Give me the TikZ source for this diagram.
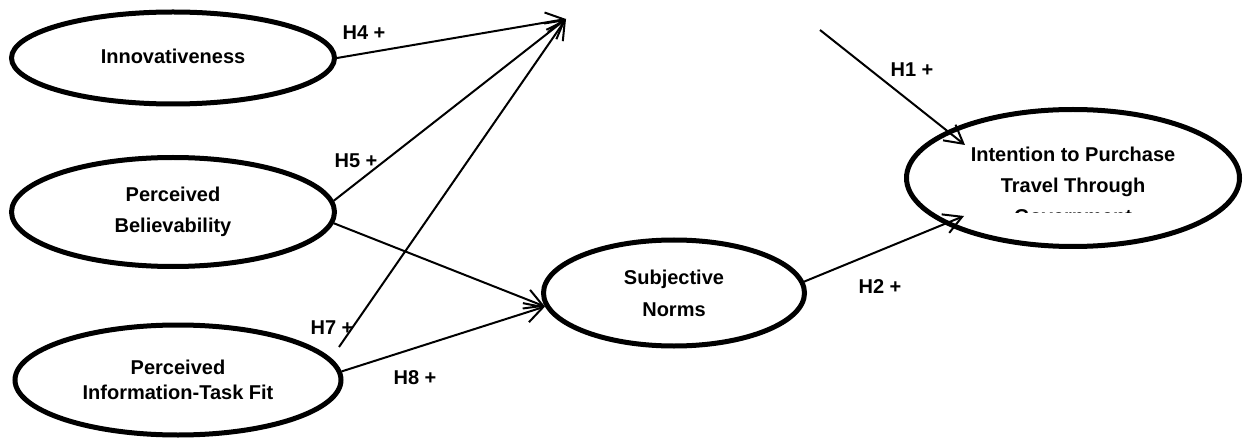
\documentclass[tikz,border=0pt]{standalone}
\usepackage{fontspec}
\setmainfont{Liberation Sans}
\usetikzlibrary{shapes.geometric,arrows.meta,calc}
\begin{document}
\begin{tikzpicture}[x=1pt,y=-1pt,
  ell/.style={ellipse, draw, line width=5pt, inner sep=0pt, align=center, font=\bfseries\fontsize{20}{31}\selectfont},
  conn/.style={line width=2pt, -{Straight Barb[length=18pt,width=20pt]}},
  lab/.style={font=\bfseries\fontsize{20}{23}\selectfont, inner sep=0pt}]
\useasboundingbox (0,0) rectangle (1249,438);

\node[ell, minimum width=323pt, minimum height=92pt] (inn) at (173,58) {Innovativeness\vphantom{p}\rule[-3pt]{0pt}{0pt}};
\node[ell, minimum width=323pt, minimum height=109pt] (bel) at (173,212) {Perceived\\Believability};
\node[ell, minimum width=326pt, minimum height=110pt, font=\bfseries\fontsize{20}{25}\selectfont] (fit) at (178,380) {Perceived\\Information-Task Fit};
\node[ell, minimum width=261pt, minimum height=106pt, font=\bfseries\fontsize{20}{32}\selectfont] (sn) at (674,293) {Subjective\\Norms};
\node[ell, minimum width=333pt, minimum height=137pt] (ip) at (1073,178) {};
\begin{scope}
  \clip (890,100) rectangle (1249,213);
  \node[align=center, inner sep=0pt, font=\bfseries\fontsize{20}{31}\selectfont] (iptext) at (1073,185) {Intention to Purchase\\Travel Through\\Government};
\end{scope}

\coordinate (top) at (566,19);
\coordinate (h7start) at (339,347);
\coordinate (h1start) at (820,30);
\coordinate (h1tip) at ($(ip.center)+(-108,-33)$);
\coordinate (h2tip) at ($(ip.center)+(-109,38)$);

\draw[conn] (inn.east) -- (top);
\draw[conn] (bel.4) -- (top);
\draw[conn] (h7start) -- (top);
\draw[conn] (bel.-4) -- (sn.186);
\draw[conn] (fit.3) -- (sn.186);
\draw[conn] (sn.5) -- (h2tip);
\draw[conn] (h1start) -- (h1tip);

\node[lab] (l4) at (364,33) {H4 +};
\node[lab] (l5) at (356,161) {H5 +};
\node[lab] (l7) at (332,328) {H7 +};
\node[lab] (l8) at (415,378) {H8 +};
\node[lab] (l2) at (880,287) {H2 +};
\node[lab] (l1) at (912,70) {H1 +};
\end{tikzpicture}
\end{document}
